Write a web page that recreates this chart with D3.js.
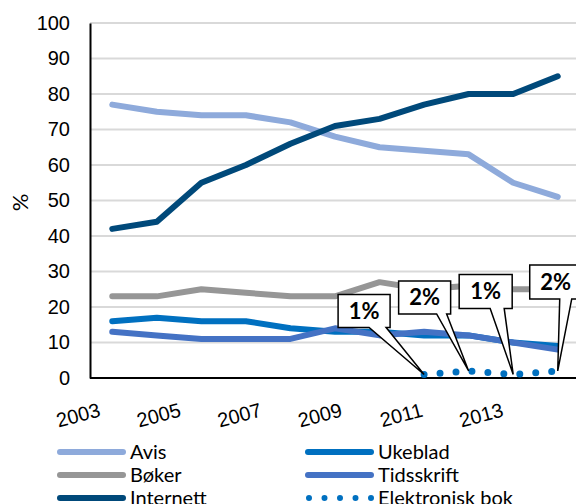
<!DOCTYPE html>
<html>
<head>
<meta charset="utf-8">
<script src="https://cdn.jsdelivr.net/npm/d3@7"></script>
<style>
  body { margin: 0; background: #fff; }
  svg { display: block; font-family: Lato, "DejaVu Sans", sans-serif; }
</style>
</head>
<body>
<div id="chart"></div>
<script>
// data
let years = [2003, 2004, 2005, 2006, 2007, 2008, 2009, 2010, 2011, 2012, 2013];
let tickYears = [2003, 2005, 2007, 2009, 2011, 2013];
let yTicks = [0, 10, 20, 30, 40, 50, 60, 70, 80, 90, 100];

let avis       = [77, 75, 74, 74, 72, 68, 65, 64, 63, 55, 51];
let ukeblad    = [16, 17, 16, 16, 14, 13, 13, 12, 12, 10, 9];
let boker      = [23, 23, 25, 24, 23, 23, 27, 25, 26, 25, 25];
let tidsskrift = [13, 12, 11, 11, 11, 14, 12, 13, 12, 10, 8];
let internett  = [42, 44, 55, 60, 66, 71, 73, 77, 80, 80, 85];
let ebok       = [null, null, null, null, null, null, null, 1, 2, 1, 2];
let ebokLabels = ['1%', '2%', '1%', '2%'];

let width = 576, height = 504,
    margin = {top: 23, left: 90, right: -4, bottom: 126};

let svg = d3.select('#chart').append('svg')
    .attr('width', width)
    .attr('height', height);

let x = d3.scaleBand()
    .domain(years)
    .range([margin.left, width - margin.right]);

let y = d3.scaleLinear()
    .domain([0, 100])
    .range([height - margin.bottom, margin.top]);

// tick labels sit on a tighter spacing than the data, like the original
let xLabel = d3.scaleLinear()
    .domain([2003, 2013])
    .range([101, 504]);

let cx = d => x(d) + x.bandwidth() / 2;

// gridlines
svg.append('g')
    .selectAll('line')
    .data(yTicks.slice(1))
    .enter()
    .append('line')
    .attr('x1', margin.left)
    .attr('x2', width)
    .attr('y1', d => y(d))
    .attr('y2', d => y(d))
    .attr('stroke', '#d9d9d9')
    .attr('stroke-width', 2);

// y axis
let yAxis = svg.append('g')
    .attr('transform', `translate(${margin.left},0)`)
    .call(d3.axisLeft(y).tickValues(yTicks).tickSize(0).tickPadding(20));
yAxis.select('.domain').attr('stroke', '#000').attr('stroke-width', 2);
yAxis.selectAll('text')
    .style('font-size', '20px')
    .attr('fill', '#000');

// x axis
let xAxis = svg.append('g')
    .attr('transform', `translate(0,${y(0)})`)
    .call(d3.axisBottom(xLabel).tickValues(tickYears).tickSize(0).tickFormat(d3.format('d')));
xAxis.select('.domain')
    .attr('d', `M${margin.left},0H${width}`)
    .attr('stroke', '#000').attr('stroke-width', 2);
xAxis.selectAll('text')
    .style('font-size', '20px')
    .attr('fill', '#000')
    .attr('text-anchor', 'end')
    .attr('x', 0)
    .attr('y', 0)
    .attr('dy', 0)
    .attr('transform', 'translate(0,38) rotate(-15)');

// y title
svg.append('text')
    .text('%')
    .attr('transform', `translate(28,${(y(0) + y(100)) / 2 + 2}) rotate(-90)`)
    .attr('text-anchor', 'middle')
    .style('font-size', '22px');

let series = [
  {name: 'Avis', values: avis, color: '#8eaadb'},
  {name: 'Bøker', values: boker, color: '#969696'},
  {name: 'Internett', values: internett, color: '#00497a'},
  {name: 'Ukeblad', values: ukeblad, color: '#0070c0'},
  {name: 'Tidsskrift', values: tidsskrift, color: '#4472c4'},
  {name: 'Elektronisk bok', values: ebok, color: '#0070c0', dotted: true}
];

let line = d3.line()
    .defined(d => d.v != null)
    .x(d => cx(d.year))
    .y(d => y(d.v));

let drawOrder = [0, 3, 1, 4, 2, 5];
svg.append('g')
    .selectAll('path')
    .data(drawOrder.map(i => series[i]))
    .enter()
    .append('path')
    .attr('d', s => line(years.map((yr, i) => ({year: yr, v: s.values[i]}))))
    .attr('fill', 'none')
    .attr('stroke', s => s.color)
    .attr('stroke-width', s => s.dotted ? 7 : 6)
    .attr('stroke-linecap', 'round')
    .attr('stroke-linejoin', 'round')
    .attr('stroke-dasharray', s => s.dotted ? '0 16' : null);

// callouts for e-book
let calloutPts = years.map((yr, i) => ({year: yr, v: ebok[i]})).filter(d => d.v != null);
let boxes = [
  {dx: -86, dy: -80, w: 52, h: 33, b1: 31, b2: 48},
  {dx: -70, dy: -90, w: 52, h: 33, b1: 38, b2: 48},
  {dx: -54, dy: -100, w: 53, h: 34, b1: 31, b2: 45},
  {dx: -28, dy: -106, w: 52, h: 34, b1: 30, b2: 42}
];

let callouts = svg.append('g')
    .selectAll('g')
    .data(calloutPts)
    .enter()
    .append('g');

callouts.append('path')
    .attr('d', (d, i) => {
      let px = cx(d.year), py = y(d.v), b = boxes[i];
      let l = px + b.dx, t = py + b.dy, r = l + b.w, bt = t + b.h;
      return `M${l},${t}H${r}V${bt}H${l + b.b2}L${px},${py}L${l + b.b1},${bt}H${l}Z`;
    })
    .attr('fill', '#fff')
    .attr('stroke', '#000')
    .attr('stroke-width', 1.5)
    .attr('stroke-linejoin', 'miter');

callouts.append('text')
    .text((d, i) => ebokLabels[i])
    .attr('x', (d, i) => cx(d.year) + boxes[i].dx + boxes[i].w / 2)
    .attr('y', (d, i) => y(d.v) + boxes[i].dy + boxes[i].h / 2 + 8)
    .attr('text-anchor', 'middle')
    .style('font-size', '22px')
    .style('font-weight', 'bold');

// legend
let legend = svg.append('g')
    .selectAll('g')
    .data(series)
    .enter()
    .append('g')
    .attr('transform', (d, i) => `translate(${i < 3 ? 60 : 308},${452 + (i % 3) * 23})`);

legend.append('line')
    .attr('x1', d => d.dotted ? 1 : 0)
    .attr('x2', d => d.dotted ? 64 : 63)
    .attr('stroke', d => d.color)
    .attr('stroke-width', 6)
    .attr('stroke-linecap', 'round')
    .attr('stroke-dasharray', d => d.dotted ? '0 15.5' : null);

legend.append('text')
    .text(d => d.name)
    .attr('x', 70)
    .attr('y', 7)
    .style('font-size', '20px');
</script>
</body>
</html>
